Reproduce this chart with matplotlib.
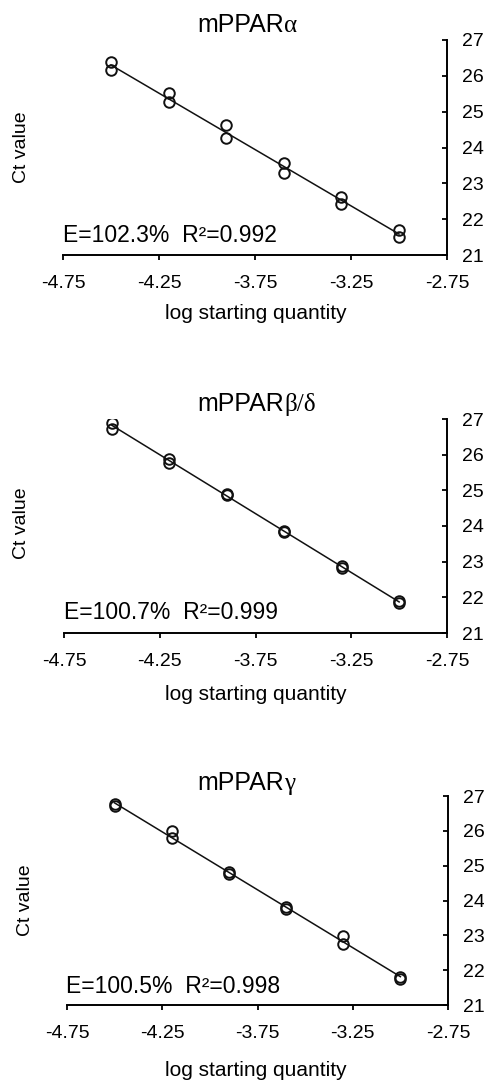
import numpy as np
import matplotlib
matplotlib.use('Agg')
import matplotlib.pyplot as plt

# log starting quantity (dilution series, two replicates each)
log_qty = [-4.5, -4.2, -3.9, -3.6, -3.3, -3.0]

# Ct values, two replicates per dilution
ct_alpha_1 = [26.39, 25.53, 24.62, 23.57, 22.62, 21.70]
ct_alpha_2 = [26.16, 25.26, 24.26, 23.29, 22.42, 21.50]

ct_bd_1 = [26.89, 25.88, 24.90, 23.86, 22.87, 21.90]
ct_bd_2 = [26.73, 25.78, 24.86, 23.83, 22.82, 21.85]

ct_gamma_1 = [26.77, 25.99, 24.83, 23.82, 22.97, 21.79]
ct_gamma_2 = [26.71, 25.78, 24.76, 23.76, 22.76, 21.75]

genes = ['mPPAR', 'mPPAR', 'mPPAR']
greek = ['α', 'β/δ', 'γ']
stats = ['E=102.3%  R²=0.992', 'E=100.7%  R²=0.999', 'E=100.5%  R²=0.998']
series = [(ct_alpha_1, ct_alpha_2), (ct_bd_1, ct_bd_2), (ct_gamma_1, ct_gamma_2)]

x_ticks = [-4.75, -4.25, -3.75, -3.25, -2.75]
y_ticks = [21, 22, 23, 24, 25, 26, 27]

plt.rcParams['font.family'] = ['Liberation Sans', 'DejaVu Sans']

W, H = 484, 1081
fig = plt.figure(figsize=(W / 100, H / 100), dpi=100)

# axes boxes in pixels: left, right, top, bottom
boxes = [(63, 447, 40, 255), (64, 447, 419, 633), (67, 448, 796, 1005)]
# title baseline, stats baseline / left, ylabel centre, xlabel baseline (pixels)
title_y = [32, 411, 790]
stat_pos = [(63, 242), (64, 619), (66, 993)]
ylab_pos = [(22, 147), (22, 523), (25, 900)]
xlab_y = [319, 700, 1076]


def px(x, y):
    return x / W, 1 - y / H


for i in range(3):
    l, r, t, b = boxes[i]
    ax = fig.add_axes([l / W, 1 - b / H, (r - l) / W, (b - t) / H])

    rep1, rep2 = series[i]
    xs = np.array(log_qty + log_qty)
    ys = np.array(rep1 + rep2)

    # regression line through all points
    slope, icpt = np.polyfit(xs, ys, 1)
    xl = np.array([min(log_qty), max(log_qty)])
    ax.plot(xl, slope * xl + icpt, color='#111111', lw=1.1, zorder=2)

    ax.plot(log_qty, rep1, 'o', ms=7.6, mfc='none', mec='#111111', mew=1.4, zorder=3)
    ax.plot(log_qty, rep2, 'o', ms=7.6, mfc='none', mec='#111111', mew=1.4, zorder=3)

    ax.set_xlim(-4.75, -2.75)
    ax.set_ylim(21, 27)
    ax.set_xticks(x_ticks)
    ax.set_xticklabels([f'{v:.2f}' for v in x_ticks])
    ax.set_yticks(y_ticks)

    ax.spines['top'].set_visible(False)
    ax.spines['left'].set_visible(False)
    ax.spines['bottom'].set_linewidth(1.4)
    ax.spines['right'].set_linewidth(1.4)
    ax.yaxis.tick_right()
    ax.tick_params(axis='x', direction='out', length=3.5, width=1.3, pad=11, labelsize=14)
    ax.tick_params(axis='y', direction='in', length=3.5, width=1.3, pad=11, labelsize=14)
    ax.patch.set_alpha(0)

    # title: sans part + serif greek part
    fig.text(*px(284, title_y[i]), genes[i], ha='right', va='baseline', fontsize=18)
    fig.text(*px(284, title_y[i]), greek[i], ha='left', va='baseline', fontsize=18,
             family=['Liberation Serif', 'DejaVu Serif'])

    fig.text(*px(*stat_pos[i]), stats[i], ha='left', va='baseline', fontsize=16.5)
    fig.text(*px(*ylab_pos[i]), 'Ct value', ha='center', va='center', rotation=90, fontsize=14)
    fig.text(*px(256, xlab_y[i]), 'log starting quantity', ha='center', va='baseline', fontsize=15)

plt.savefig('out.png', dpi=100)
